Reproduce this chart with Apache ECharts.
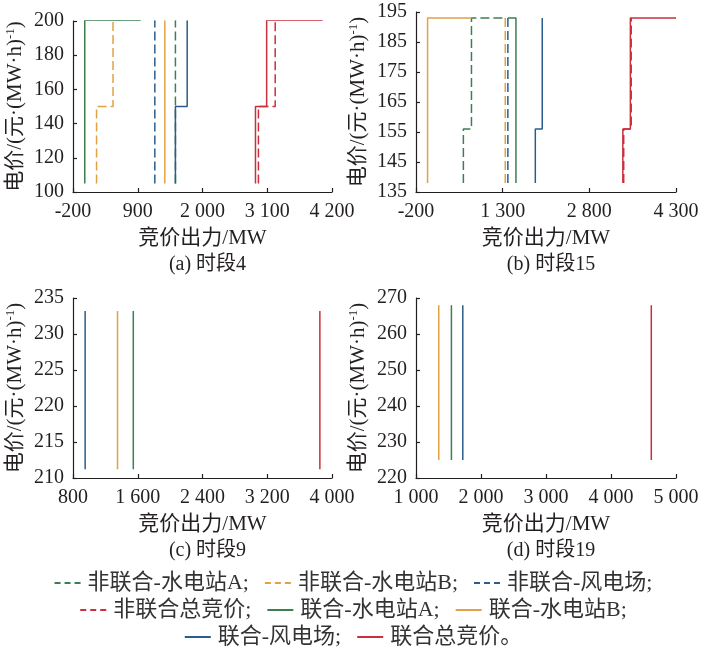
<!DOCTYPE html>
<html>
<head>
<meta charset="utf-8">
<script src="https://cdn.jsdelivr.net/npm/echarts@6/dist/echarts.min.js"></script>
<style>
html,body{margin:0;padding:0;background:#fff;}
#chart{width:707px;height:657px;}
</style>
</head>
<body>
<div id="chart"></div>
<script>
// ---- data ----
const seriesNames = ['非联合-水电站A','非联合-水电站B','非联合-风电场','非联合总竞价','联合-水电站A','联合-水电站B','联合-风电场','联合总竞价'];
const seriesColors = ['#3b7f52','#e2a144','#295d8c','#c9303b','#3b7f52','#e2a144','#295d8c','#c9303b'];
const seriesDashed = [true,true,true,true,false,false,false,false];

// panel (a) 时段4 : [竞价出力 MW, 电价]
const curvesA = [
  [[1540,105],[1540,200.5]],
  [[200,105],[200,150],[480,150],[480,200.5]],
  [[1190,105],[1190,200.5]],
  [[2950,105],[2950,150],[3235,150],[3235,200.5]],
  [[0,105],[0,200.5],[950,200.5]],
  [[1360,105],[1360,200.5]],
  [[1540,105],[1540,150],[1740,150],[1740,200.5]],
  [[2900,105],[2900,150],[3090,150],[3090,200.5],[4040,200.5]]
];
// panel (b) 时段15
const curvesB = [
  [[620,138],[620,156],[760,156],[760,193],[1310,193]],
  [[1345,138],[1345,193]],
  [[1390,138],[1390,193]],
  [[3395,138],[3395,156],[3525,156],[3525,193]],
  [[1390,193],[1530,193],[1530,138]],
  [[0,138],[0,193],[760,193]],
  [[1865,138],[1865,156],[1985,156],[1985,193]],
  [[3380,138],[3380,156],[3510,156],[3510,193],[4300,193]]
];
// panel (c) 时段9
const curvesC = [
  null, null, null, null,
  [[1545,211.2],[1545,233.2]],
  [[1350,211.2],[1350,233.2]],
  [[950,211.2],[950,233.2]],
  [[3850,211.2],[3850,233.2]]
];
// panel (d) 时段19
const curvesD = [
  null, null, null, null,
  [[1545,225],[1545,268]],
  [[1350,225],[1350,268]],
  [[1720,225],[1720,268]],
  [[4620,225],[4620,268]]
];
const xRanges = [[-200,4200,1100],[-200,4300,1500],[800,4000,800],[1000,5000,1000]];
const yRanges = [[100,200,20],[135,195,10],[210,235,5],[220,270,10]];
const captions = ['(a) 时段4','(b) 时段15','(c) 时段9','(d) 时段19'];
const xName = '竞价出力/MW';
const yName = '电价/(元·(MW·h){sup|-1})';

// ---- layout ----
const grids = [
  {left:73, top:21, width:259, height:171},
  {left:416, top:12, width:260, height:180},
  {left:73, top:298, width:259, height:180},
  {left:416, top:298, width:260, height:180}
];
const ink = '#231f20';
const serif = "'Liberation Serif','Noto Sans CJK SC',serif";
const fmt = v => {
  const s = String(Math.abs(v));
  const t = s.length > 3 ? s.slice(0, s.length-3) + ' ' + s.slice(-3) : s;
  return (v < 0 ? '-' : '') + t;
};

const xAxes = [], yAxes = [], series = [], titles = [];
const allCurves = [curvesA, curvesB, curvesC, curvesD];
grids.forEach((g, i) => {
  xAxes.push({
    type:'value', gridIndex:i, min:xRanges[i][0], max:xRanges[i][1], interval:xRanges[i][2],
    name:xName, nameLocation:'middle', nameGap:36,
    nameTextStyle:{fontFamily:serif, fontSize:21, color:ink},
    axisLine:{show:true, onZero:false, lineStyle:{color:ink, width:1.2}},
    axisTick:{show:true, inside:true, length:4, lineStyle:{color:ink, width:1.2}},
    axisLabel:{formatter:fmt, fontFamily:serif, fontSize:20, color:ink, margin:10, showMinLabel:true, showMaxLabel:true},
    splitLine:{show:false}
  });
  yAxes.push({
    type:'value', gridIndex:i, min:yRanges[i][0], max:yRanges[i][1], interval:yRanges[i][2],
    name:yName, nameLocation:'middle', nameGap:46,
    nameTextStyle:{fontFamily:serif, fontSize:21, color:ink, rich:{sup:{fontFamily:serif, fontSize:13, color:ink, padding:[0,0,10,0]}}},
    axisLine:{show:true, onZero:false, lineStyle:{color:ink, width:1.2}},
    axisTick:{show:true, inside:true, length:4, lineStyle:{color:ink, width:1.2}},
    axisLabel:{fontFamily:serif, fontSize:20, color:ink, margin:9},
    splitLine:{show:false}
  });
  titles.push({
    text:captions[i], left:g.left + g.width/2, top:g.top + g.height + 58, textAlign:'center',
    textStyle:{fontFamily:serif, fontSize:20, fontWeight:'normal', color:ink}
  });
  allCurves[i].forEach((pts, k) => {
    if (!pts) return;
    series.push({
      name:seriesNames[k], type:'line', xAxisIndex:i, yAxisIndex:i,
      data:pts, symbol:'none', animation:false, silent:true,
      lineStyle:{color:seriesColors[k], width:1.5, type: seriesDashed[k] ? [9,4] : 'solid'},
      itemStyle:{color:seriesColors[k]},
      z: seriesDashed[k] ? 2 : 3
    });
  });
});

const dashIcon = 'path://M0,0h6v2h-6zM10,0h6v2h-6zM20,0h6v2h-6z';
const solidIcon = 'path://M0,0h26v2h-26z';
const legendItem = n => ({name:n, icon: seriesDashed[seriesNames.indexOf(n)] ? dashIcon : solidIcon});
const legendBase = {
  itemWidth:26, itemHeight:2, itemGap:16, symbolKeepAspect:false,
  itemStyle:{borderWidth:0},
  textStyle:{fontFamily:serif, fontSize:22, color:'#333', padding:[0,0,0,2]},
  formatter: n => n + (n === '联合总竞价' ? '。' : ';'),
  selectedMode:false, left:'center'
};
const legends = [
  Object.assign({}, legendBase, {top:567, data:seriesNames.slice(0,3).map(legendItem)}),
  Object.assign({}, legendBase, {top:594, data:seriesNames.slice(3,6).map(legendItem)}),
  Object.assign({}, legendBase, {top:621, data:seriesNames.slice(6,8).map(legendItem)})
];

const chart = echarts.init(document.getElementById('chart'), null, {renderer:'canvas'});
chart.setOption({
  animation:false,
  backgroundColor:'#fff',
  title:titles,
  legend:legends,
  grid:grids,
  xAxis:xAxes,
  yAxis:yAxes,
  series:series
});
</script>
</body>
</html>
